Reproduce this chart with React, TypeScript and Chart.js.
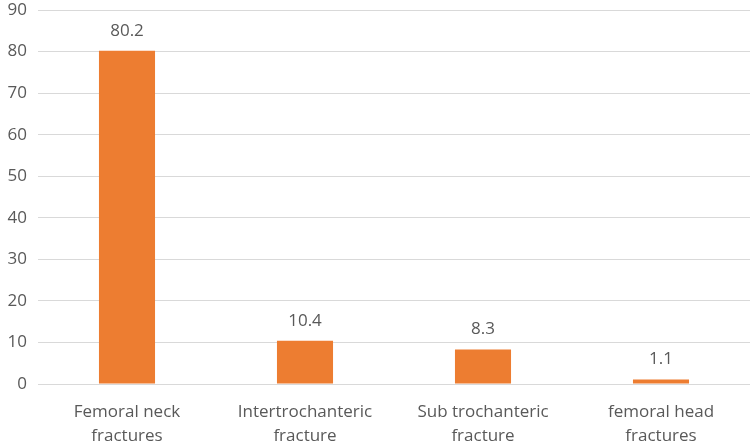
import React, { useEffect, useRef } from "react";
import { Chart, registerables } from "chart.js";

Chart.register(...registerables);

const categories: string[][] = [
  ["Femoral neck", "fractures"],
  ["Intertrochanteric", "fracture"],
  ["Sub trochanteric", "fracture"],
  ["femoral head", "fractures"],
];
const values: number[] = [80.2, 10.4, 8.3, 1.1];
const yTicks: number[] = [0, 10, 20, 30, 40, 50, 60, 70, 80, 90];

const FONT = "'Open Sans', sans-serif";
const TEXT = "#595959";

const labelPlugin = {
  id: "valueLabels",
  afterDatasetsDraw(chart: any) {
    const { ctx } = chart;
    const meta = chart.getDatasetMeta(0);
    ctx.save();
    ctx.font = `17px ${FONT}`;
    ctx.fillStyle = TEXT;
    ctx.textAlign = "center";
    ctx.textBaseline = "middle";
    meta.data.forEach((bar: any, i: number) => {
      ctx.fillText(String(values[i]), bar.x, bar.y - 20);
    });
    ctx.restore();
  },
};

export default function App() {
  const ref = useRef<HTMLCanvasElement>(null);
  useEffect(() => {
    if (!ref.current) return;
    const chart = new Chart(ref.current, {
      type: "bar",
      data: {
        labels: categories,
        datasets: [
          {
            data: values,
            backgroundColor: "#ED7D31",
            barPercentage: 1,
            categoryPercentage: 0.315,
          },
        ],
      },
      options: {
        responsive: false,
        animation: false,
        layout: { padding: { top: 10, right: 0, left: 0, bottom: 0 } },
        plugins: { legend: { display: false }, tooltip: { enabled: false } },
        scales: {
          x: {
            grid: { display: false },
            border: { display: false },
            ticks: {
              color: TEXT,
              font: { family: FONT, size: 17, lineHeight: 1.36 },
              padding: 9,
              maxRotation: 0,
              autoSkip: false,
            },
            afterFit: (s: any) => {
              s.height = 62;
              s.paddingLeft = 0;
              s.paddingRight = 0;
            },
          },
          y: {
            min: 0,
            max: 90,
            afterBuildTicks: (s: any) => {
              s.ticks = yTicks.map((v) => ({ value: v }));
            },
            grid: { color: "#D9D9D9", lineWidth: 1, drawTicks: false },
            border: { display: false },
            ticks: {
              color: TEXT,
              font: { family: FONT, size: 17 },
              padding: 11,
            },
            afterFit: (s: any) => {
              s.width = 38;
              s.paddingTop = 0;
              s.paddingBottom = 0;
            },
          },
        },
      },
      plugins: [labelPlugin],
    });
    return () => chart.destroy();
  }, []);
  return (
    <div style={{ position: "fixed", left: 0, top: 0, width: 750, height: 446, background: "#fff" }}>
      <canvas ref={ref} width={750} height={446} />
    </div>
  );
}
